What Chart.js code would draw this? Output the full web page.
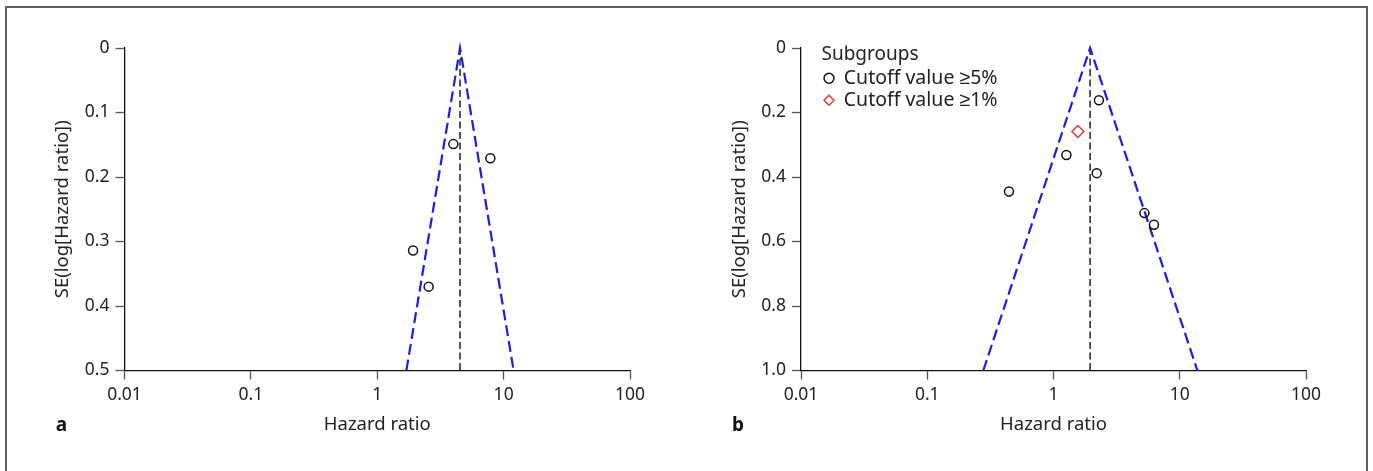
<!DOCTYPE html>
<html>
<head>
<meta charset="utf-8">
<script src="https://cdn.jsdelivr.net/npm/chart.js@4.4.1/dist/chart.umd.min.js"></script>
<style>
  body { margin: 0; background: #fff; }
  #frame { position: absolute; left: 5px; top: 6px; width: 1363px; height: 600px; border: 2px solid #5c5c5c; box-sizing: border-box; }
  canvas { position: absolute; top: 0; }
  #chartA { left: 0; }
  #chartB { left: 686px; }
</style>
</head>
<body>
<div id="frame"></div>
<canvas id="chartA" width="686" height="471"></canvas>
<canvas id="chartB" width="687" height="471"></canvas>
<script>
// shared x axis
const xTicks = [0.01, 0.1, 1, 10, 100];
const xTickLabels = ['0.01', '0.1', '1', '10', '100'];

// panel a
const hrA = [4.0, 7.85, 1.92, 2.55];
const seA = [0.149, 0.171, 0.314, 0.370];
const pooledA = 4.52;
const pooledSeA = [0, 0.5];
const funnelHrA = [1.70, 4.52, 12.0];
const funnelSeA = [0.5, 0, 0.5];
const yTicksA = [0, 0.1, 0.2, 0.3, 0.4, 0.5];
const yTickLabelsA = ['0', '0.1', '0.2', '0.3', '0.4', '0.5'];

// panel b
const hrB5 = [2.29, 1.265, 2.20, 0.444, 5.25, 6.25];
const seB5 = [0.162, 0.332, 0.388, 0.445, 0.512, 0.548];
const hrB1 = [1.56];
const seB1 = [0.259];
const pooledB = 1.95;
const pooledSeB = [0, 1.0];
const funnelHrB = [0.278, 1.95, 13.8];
const funnelSeB = [1.0, 0, 1.0];
const yTicksB = [0, 0.2, 0.4, 0.6, 0.8, 1.0];
const yTickLabelsB = ['0', '0.2', '0.4', '0.6', '0.8', '1.0'];

Chart.defaults.font.family = '"Noto Sans", sans-serif';
Chart.defaults.color = '#222';

const pts = (xs, ys) => xs.map((x, i) => ({x: x, y: ys[i]}));

const panelExtras = {
  id: 'panelExtras',
  afterLayout(chart, args, opts) {
    const lg = chart.legend;
    if (lg && opts.legendAt) {
      lg.left = chart.chartArea.left + opts.legendAt[0];
      lg.top = chart.chartArea.top + opts.legendAt[1];
    }
  },
  afterDraw(chart, args, opts) {
    const {ctx, chartArea} = chart;
    ctx.save();
    ctx.font = 'bold 19px "Noto Sans"';
    ctx.fillStyle = '#111';
    ctx.textAlign = 'center';
    ctx.textBaseline = 'middle';
    ctx.fillText(opts.letter, chartArea.left - 63, 426);
    ctx.restore();
  }
};

function makeFunnel(id, c) {
  const datasets = [
    {
      label: 'funnel', data: pts(c.funnelHr, c.funnelSe), showLine: true,
      borderColor: '#1b1bf2', borderWidth: 2.2, borderDash: [11, 5],
      pointRadius: 0, clip: false, order: 3
    },
    {
      label: 'pooled', data: pts([c.pooled, c.pooled], c.pooledSe), showLine: true,
      borderColor: '#444', borderWidth: 1.8, borderDash: [7, 3.5],
      pointRadius: 0, clip: false, order: 4
    }
  ];
  c.groups.forEach(g => {
    datasets.push({
      label: g.label, data: pts(g.hr, g.se), pointStyle: g.style,
      pointRadius: g.radius, pointHoverRadius: g.radius,
      borderColor: g.color, backgroundColor: 'rgba(0,0,0,0)',
      borderWidth: 1.5, clip: false, order: 1
    });
  });

  return new Chart(document.getElementById(id), {
    type: 'scatter',
    data: { datasets: datasets },
    options: {
      responsive: false,
      animation: false,
      events: [],
      layout: { padding: { left: c.padLeft, right: c.padRight, top: 48, bottom: 34.8 } },
      scales: {
        x: {
          type: 'logarithmic', min: 0.01, max: 100,
          afterBuildTicks: s => { s.ticks = xTicks.map(v => ({value: v})); },
          afterFit: s => { s.height = 65.7; },
          ticks: { callback: (v, i) => xTickLabels[i], color: '#222', font: {size: 17.5}, padding: 5, maxRotation: 0 },
          grid: { drawOnChartArea: false, tickLength: 9, tickColor: '#555', tickWidth: 1.3 },
          border: { color: '#111', width: 1.3 },
          title: { display: true, text: 'Hazard ratio', color: '#222', font: {size: 18.5}, padding: 0 }
        },
        y: {
          type: 'linear', reverse: true, min: 0, max: c.yTicks[c.yTicks.length - 1],
          afterBuildTicks: s => { s.ticks = c.yTicks.map(v => ({value: v})); },
          afterFit: s => { s.width = c.yWidth; },
          ticks: { callback: (v, i) => c.yTickLabels[i], color: '#222', font: {size: 17.5}, padding: 6 },
          grid: { drawOnChartArea: false, tickLength: 9, tickColor: '#555', tickWidth: 1.3 },
          border: { color: '#111', width: 1.3 },
          title: { display: true, text: 'SE(log[Hazard ratio])', color: '#222', font: {size: 18.5}, padding: 0 }
        }
      },
      plugins: {
        tooltip: { enabled: false },
        legend: {
          display: c.showLegend, position: 'chartArea', align: 'start',
          labels: {
            usePointStyle: true, boxWidth: 10, boxHeight: 7, padding: 2.5,
            color: '#222', font: {size: 19.5},
            filter: item => item.datasetIndex >= 2
          },
          title: { display: true, text: 'Subgroups', position: 'start', color: '#222', font: {size: 19, lineHeight: 1.08}, padding: 0 }
        },
        panelExtras: { letter: c.letter, legendAt: c.showLegend ? [20.5, -2.5] : null }
      }
    },
    plugins: [panelExtras]
  });
}

makeFunnel('chartA', {
  letter: 'a', showLegend: false,
  padLeft: 52, padRight: 56, yWidth: 72.5,
  yTicks: yTicksA, yTickLabels: yTickLabelsA,
  pooled: pooledA, pooledSe: pooledSeA,
  funnelHr: funnelHrA, funnelSe: funnelSeA,
  groups: [
    { label: 'Cutoff value ≥5%', hr: hrA, se: seA, style: 'circle', radius: 4.5, color: '#111' }
  ]
});

makeFunnel('chartB', {
  letter: 'b', showLegend: true,
  padLeft: 42.4, padRight: 67, yWidth: 72.6,
  yTicks: yTicksB, yTickLabels: yTickLabelsB,
  pooled: pooledB, pooledSe: pooledSeB,
  funnelHr: funnelHrB, funnelSe: funnelSeB,
  groups: [
    { label: 'Cutoff value ≥5%', hr: hrB5, se: seB5, style: 'circle', radius: 4.5, color: '#111' },
    { label: 'Cutoff value ≥1%', hr: hrB1, se: seB1, style: 'rectRot', radius: 6, color: '#e23b2e' }
  ]
});
</script>
</body>
</html>
